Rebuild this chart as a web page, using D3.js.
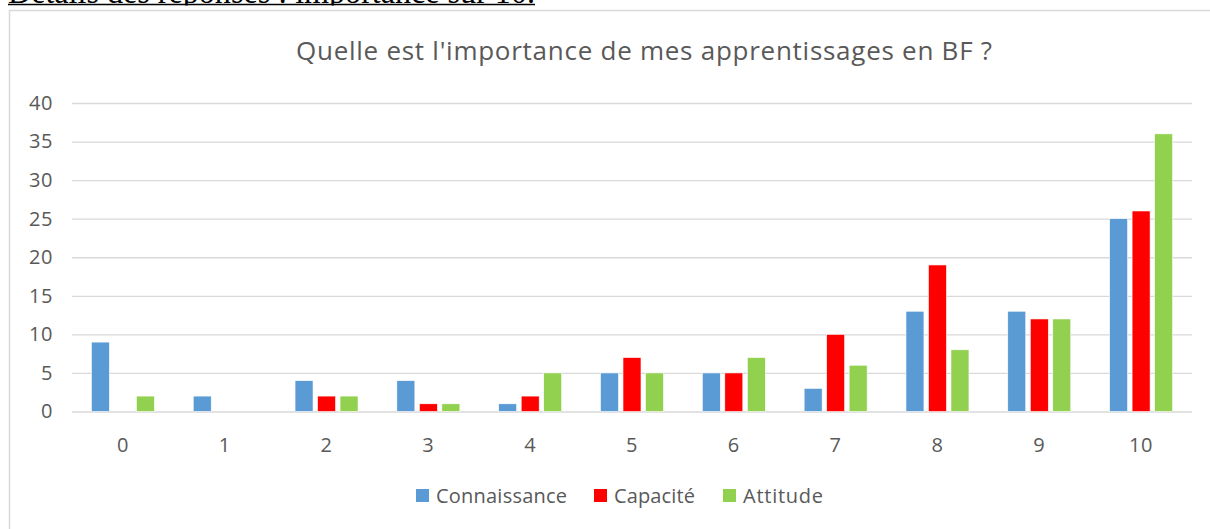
<!DOCTYPE html>
<html><head><meta charset="utf-8">
<script src="https://cdn.jsdelivr.net/npm/d3@7"></script>
<style>
html,body{margin:0;padding:0;background:#fff;}
svg{display:block;}
</style></head>
<body>
<svg id="c" width="1210" height="529"></svg>
<script>
const categories = ["0","1","2","3","4","5","6","7","8","9","10"];
const seriesNames = ["Connaissance","Capacité","Attitude"];
const connaissance = [9,2,4,4,1,5,5,3,13,13,25];
const capacite     = [0,0,2,1,2,7,5,10,19,12,26];
const attitude     = [2,0,2,1,5,5,7,6,8,12,36];
const colors = ["#5B9BD5","#FF0000","#92D050"];
const yTicks = [0,5,10,15,20,25,30,35,40];
const titleText = "Quelle est l'importance de mes apprentissages en BF ?";
const headerText = "Détails des réponses : importance sur 10.";

const seriesValues = [connaissance, capacite, attitude];
const svg = d3.select("#c");
const font = "'Open Sans', 'Noto Sans', sans-serif";
const grey = "#595959";

// header text (cut off at top as in the source page)
svg.append("text").attr("x", 8).attr("y", 3)
  .attr("font-family", "'Liberation Serif', 'Times New Roman', serif")
  .attr("font-size", 33).attr("fill", "#000")
  .attr("textLength", 527).attr("lengthAdjust", "spacingAndGlyphs")
  .text(headerText);
svg.append("rect").attr("x", 0).attr("y", 5.5).attr("width", 1210).attr("height", 6).attr("fill", "#fff");
svg.append("line").attr("x1", 8).attr("x2", 535).attr("y1", 4.5).attr("y2", 4.5)
  .attr("stroke", "#000").attr("stroke-width", 1.5);

// chart border
svg.append("rect").attr("x", 9.5).attr("y", 10.5).attr("width", 1210).attr("height", 530)
  .attr("fill", "#fff").attr("stroke", "#D9D9D9").attr("stroke-width", 1.5);

const pLeft = 72, pRight = 1192, pTop = 103, pBottom = 411.5;
const y = d3.scaleLinear().domain([0, 40]).range([pBottom, pTop]);
const x0 = d3.scaleBand().domain(categories).range([pLeft, pRight]).padding(0);
const groupW = x0.bandwidth() * 0.663;
const x1 = d3.scaleBand().domain(seriesNames).range([0, groupW]).paddingInner(0.2).paddingOuter(0.1);

// grid
const yAxis = d3.axisLeft(y).tickValues(yTicks).tickSize(-(pRight - pLeft)).tickPadding(20);
const gy = svg.append("g").attr("transform", `translate(${pLeft},0)`).call(yAxis);
gy.select(".domain").remove();
gy.selectAll(".tick line").attr("stroke", "#D9D9D9").attr("stroke-width", 1.3);
gy.selectAll(".tick text").attr("font-family", font).attr("font-size", 20).attr("fill", grey)
  .attr("x", -19).attr("letter-spacing", 0.6);

// x axis labels
const xAxis = d3.axisBottom(x0).tickSize(0).tickPadding(26);
const gx = svg.append("g").attr("transform", `translate(0,${pBottom})`).call(xAxis);
gx.select(".domain").remove();
gx.selectAll(".tick text").attr("font-family", font).attr("font-size", 20).attr("fill", grey)
  .attr("letter-spacing", 0.6);

// bars
const rows = categories.map((c, i) => ({cat: c, vals: seriesNames.map((s, j) => ({s, j, v: seriesValues[j][i]}))}));
const groups = svg.append("g").selectAll("g").data(rows).join("g")
  .attr("transform", d => `translate(${x0(d.cat) + (x0.bandwidth() - groupW) / 2},0)`);
groups.selectAll("rect").data(d => d.vals.filter(e => e.v > 0)).join("rect")
  .attr("x", d => x1(d.s)).attr("width", x1.bandwidth())
  .attr("y", d => y(d.v)).attr("height", d => y(0) - y(d.v))
  .attr("fill", d => colors[d.j]).attr("stroke", "#fff").attr("stroke-width", 0.6);

// title
svg.append("text").attr("x", 296).attr("y", 60)
  .attr("font-family", font).attr("font-size", 26).attr("fill", grey)
  .attr("textLength", 696).attr("lengthAdjust", "spacing")
  .text(titleText);

// legend
const legendItems = [{n: seriesNames[0], x: 416, w: 131}, {n: seriesNames[1], x: 594, w: 81}, {n: seriesNames[2], x: 723, w: 80}];
const lg = svg.append("g");
legendItems.forEach((it, j) => {
  lg.append("rect").attr("x", it.x).attr("y", 489).attr("width", 13).attr("height", 13).attr("fill", colors[j]);
  lg.append("text").attr("x", it.x + 20).attr("y", 502.5).attr("font-family", font).attr("font-size", 20)
    .attr("fill", grey).attr("textLength", it.w).attr("lengthAdjust", "spacing").text(it.n);
});
</script>
</body></html>
